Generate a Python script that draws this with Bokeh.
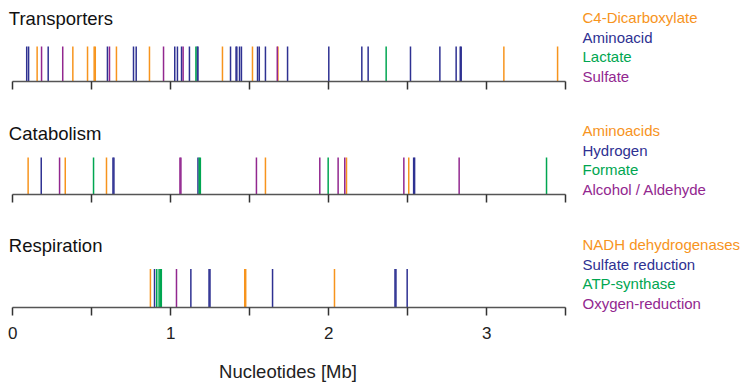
from bokeh.plotting import figure
from bokeh.models import ColumnDataSource, Range1d, FixedTicker, Label
from bokeh.layouts import column, row
from bokeh.core.properties import value
from bokeh.embed import file_html
from bokeh.resources import INLINE

ORANGE = "#F7941D"
NAVY = "#2E3192"
GREEN = "#00A651"
PURPLE = "#92278F"

# ---------------- data (positions in Mb) ----------------
transport_c4 = [0.154, 0.380, 0.473, 0.515, 0.522, 0.656, 0.865, 1.327, 1.517, 1.678, 3.108, 3.448]
transport_amino = [0.088, 0.100, 0.224, 0.599, 0.764, 0.781, 1.025, 1.042, 1.068, 1.118, 1.167, 1.172,
                   1.378, 1.413, 1.418, 1.435, 1.447, 1.549, 1.560, 1.599, 1.739, 2.000, 2.209, 2.249,
                   2.517, 2.703, 2.806, 2.832, 2.838]
transport_lactate = [1.159, 2.363]
transport_sulfate = [0.182, 0.316, 0.612, 0.954, 1.078, 1.674]

catab_aminoacids = [0.097, 0.332, 0.593, 1.599, 2.112, 2.506]
catab_hydrogen = [0.180, 0.634, 0.640, 1.172, 2.537, 2.543]
catab_formate = [0.511, 1.180, 1.187, 1.996, 3.378]
catab_alcohol = [0.296, 1.058, 1.064, 1.542, 1.943, 2.059, 2.101, 2.475, 2.825]

resp_nadh = [0.871, 1.468, 1.474, 2.036]
resp_sulfate_red = [0.897, 1.127, 1.242, 1.248, 1.644, 2.419, 2.425, 2.496]
resp_atp = [0.911, 0.926, 0.934, 0.940]
resp_oxygen = [1.036]

track_titles = ["Transporters", "Catabolism", "Respiration"]
transport_names = ["C4-Dicarboxylate", "Aminoacid", "Lactate", "Sulfate"]
catab_names = ["Aminoacids", "Hydrogen", "Formate", "Alcohol / Aldehyde"]
resp_names = ["NADH dehydrogenases", "Sulfate reduction", "ATP-synthase", "Oxygen-reduction"]

major_ticks = [0, 1, 2, 3]
minor_ticks = [0.5, 1.5, 2.5, 3.5]
axis_title = "Nucleotides [Mb]"

# ---------------- layout ----------------
FONT = "Liberation Sans"
PX_PER_MB = 158.0
X0_PX = 12.3
TRACK_W = 575
LEGEND_W = 168
TOTAL_H = 383
x_start = -X0_PX / PX_PER_MB
x_end = x_start + TRACK_W / PX_PER_MB
colors = [ORANGE, NAVY, GREEN, PURPLE]

tracks = [
    dict(title=track_titles[0], names=transport_names,
         groups=[transport_c4, transport_amino, transport_lactate, transport_sulfate],
         frame_h=81, border_b=39, line_h=35, title_y=63, legend_top=17),
    dict(title=track_titles[1], names=catab_names,
         groups=[catab_aminoacids, catab_hydrogen, catab_formate, catab_alcohol],
         frame_h=74, border_b=38, line_h=37, title_y=61, legend_top=130),
    dict(title=track_titles[2], names=resp_names,
         groups=[resp_nadh, resp_sulfate_red, resp_atp, resp_oxygen],
         frame_h=75, border_b=76, line_h=38.5, title_y=62, legend_top=244),
]
LEGEND_STEP = 19.5
LEGEND_X = 7


def style_fig(p):
    p.xgrid.visible = False
    p.ygrid.visible = False
    p.outline_line_color = None
    p.background_fill_color = "white"
    p.border_fill_color = "white"


figs = []
for i, t in enumerate(tracks):
    last = i == len(tracks) - 1
    p = figure(frame_width=TRACK_W, frame_height=t["frame_h"], output_backend="svg",
               toolbar_location=None, y_axis_location=None,
               x_range=Range1d(x_start, x_end), y_range=Range1d(0, t["frame_h"]),
               min_border_left=0, min_border_right=0, min_border_top=0,
               min_border_bottom=t["border_b"])
    style_fig(p)

    xs, cs = [], []
    for g, c in zip(t["groups"], colors):
        xs += list(g)
        cs += [c] * len(g)
    src = ColumnDataSource(dict(x=xs, color=cs))
    p.segment(x0="x", y0=0, x1="x", y1=t["line_h"], source=src,
              line_color="color", line_width=1.5)

    ax = p.xaxis[0]
    ax.bounds = (0, 3.5)
    ax.ticker = FixedTicker(ticks=major_ticks, minor_ticks=minor_ticks)
    ax.axis_line_color = "#555555"
    ax.axis_line_width = 1.5
    ax.major_tick_line_color = "#333333"
    ax.major_tick_line_width = 1.5
    ax.major_tick_in = 0
    ax.major_tick_out = 8
    ax.minor_tick_line_color = "#333333"
    ax.minor_tick_line_width = 1.5
    ax.minor_tick_in = 0
    ax.minor_tick_out = 8
    if last:
        ax.major_label_text_font = FONT
        ax.major_label_text_font_size = "17px"
        ax.major_label_text_color = "#222222"
        ax.major_label_standoff = 11
        ax.axis_label = axis_title
        ax.axis_label_text_font = FONT
        ax.axis_label_text_font_size = "18.5px"
        ax.axis_label_text_font_style = "normal"
        ax.axis_label_text_color = "#222222"
        ax.axis_label_standoff = 19
    else:
        ax.major_label_text_color = None
        ax.major_label_standoff = 0

    p.add_layout(Label(x=-0.025, y=t["title_y"], text=t["title"], text_font=FONT,
                       text_font_size="18.5px", text_color="#111111", text_baseline="middle"))
    figs.append(p)

# legend panel to the right
lg = figure(width=LEGEND_W, height=TOTAL_H, output_backend="svg", toolbar_location=None,
            x_axis_location=None, y_axis_location=None,
            x_range=Range1d(0, LEGEND_W), y_range=Range1d(TOTAL_H, 0),
            min_border=0)
style_fig(lg)
names, lcolors, lys = [], [], []
for t in tracks:
    for k, (name, c) in enumerate(zip(t["names"], colors)):
        names.append(name)
        lcolors.append(c)
        lys.append(t["legend_top"] + k * LEGEND_STEP)
lsrc = ColumnDataSource(dict(x=[LEGEND_X] * len(names), y=lys, text=names, color=lcolors))
lg.text(x="x", y="y", text="text", source=lsrc, text_color="color",
        text_font=value(FONT), text_font_size="15px", text_baseline="middle", text_align="left")

layout = row(column(*figs, spacing=0), lg, spacing=0)
html = file_html(layout, INLINE)
html = html.replace("</head>", "<style>html,body{overflow:hidden;}</style></head>", 1)
open("out.html", "w").write(html)
